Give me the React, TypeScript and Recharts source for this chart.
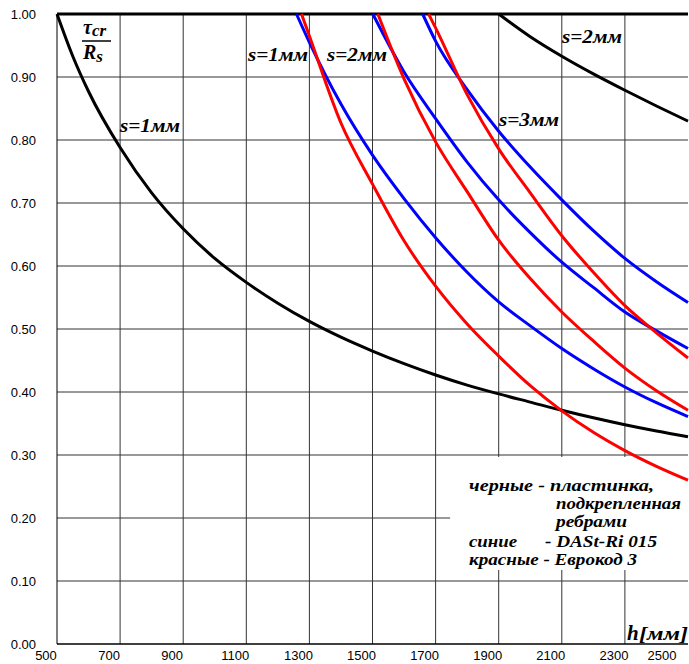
import { LineChart, Line, XAxis, YAxis, CartesianGrid, ReferenceArea, ReferenceLine } from 'recharts'

type Pt = [number, number]

// h [mm] -> tau_cr / R_s
// black: plate stiffened with ribs
const black1: Pt[] = [[500, 1], [550, 0.933], [600, 0.877], [700, 0.788], [800, 0.716], [900, 0.659], [1000, 0.612], [1100, 0.574], [1200, 0.541], [1300, 0.512], [1400, 0.487], [1500, 0.465], [1600, 0.445], [1700, 0.427], [1800, 0.411], [1900, 0.397], [2000, 0.384], [2100, 0.371], [2200, 0.359], [2300, 0.348], [2400, 0.338], [2500, 0.329]]
const black2: Pt[] = [[1900, 1], [2000, 0.964], [2100, 0.933], [2200, 0.905], [2300, 0.879], [2400, 0.854], [2500, 0.83]]
// blue: DASt-Ri 015
const blue1: Pt[] = [[1259, 1], [1300, 0.955], [1400, 0.857], [1500, 0.776], [1600, 0.707], [1700, 0.645], [1800, 0.59], [1900, 0.543], [2000, 0.505], [2100, 0.469], [2200, 0.437], [2300, 0.408], [2400, 0.383], [2500, 0.361]]
const blue2: Pt[] = [[1501, 1], [1600, 0.908], [1700, 0.834], [1800, 0.765], [1900, 0.705], [2000, 0.653], [2100, 0.606], [2200, 0.566], [2300, 0.527], [2400, 0.497], [2500, 0.469]]
const blue3: Pt[] = [[1659, 1], [1700, 0.957], [1800, 0.88], [1900, 0.814], [2000, 0.757], [2100, 0.705], [2200, 0.656], [2300, 0.612], [2400, 0.575], [2500, 0.542]]
// red: Eurocode 3
const red1: Pt[] = [[1275, 1], [1300, 0.965], [1400, 0.827], [1500, 0.73], [1600, 0.64], [1700, 0.568], [1800, 0.508], [1900, 0.457], [2000, 0.41], [2100, 0.37], [2200, 0.336], [2300, 0.307], [2400, 0.282], [2500, 0.26]]
const red2: Pt[] = [[1517, 1], [1600, 0.897], [1700, 0.797], [1800, 0.718], [1900, 0.641], [2000, 0.58], [2100, 0.527], [2200, 0.481], [2300, 0.438], [2400, 0.402], [2500, 0.371]]
const red3: Pt[] = [[1678, 1], [1700, 0.978], [1800, 0.872], [1900, 0.786], [2000, 0.716], [2100, 0.648], [2200, 0.59], [2300, 0.537], [2400, 0.494], [2500, 0.454]]

const xTicks = [500, 700, 900, 1100, 1300, 1500, 1700, 1900, 2100, 2300, 2500]
const xGrid = [700, 900, 1100, 1300, 1500, 1700, 1900, 2100, 2300]
const yTicks = [0, 0.1, 0.2, 0.3, 0.4, 0.5, 0.6, 0.7, 0.8, 0.9, 1]

const series = [
  { key: 'black1', pts: black1, color: '#000000' },
  { key: 'black2', pts: black2, color: '#000000' },
  { key: 'blue1', pts: blue1, color: '#0000FF' },
  { key: 'blue2', pts: blue2, color: '#0000FF' },
  { key: 'blue3', pts: blue3, color: '#0000FF' },
  { key: 'red1', pts: red1, color: '#FF0000' },
  { key: 'red2', pts: red2, color: '#FF0000' },
  { key: 'red3', pts: red3, color: '#FF0000' },
]

const sans = '"Liberation Sans", Arial, sans-serif'
const serif = '"Liberation Serif", "Times New Roman", serif'

const XTick = ({ x, y, payload }: any) => (
  <text x={x - 11} y={y + 16} textAnchor="middle" fontFamily={sans} fontSize={13} fill="#000">
    {payload.value}
  </text>
)

const YTick = ({ x, y, payload }: any) => (
  <text x={x} y={y + 5} textAnchor="end" fontFamily={sans} fontSize={13} fill="#000">
    {Number(payload.value).toFixed(2)}
  </text>
)

const lbl = { fontFamily: serif, fontWeight: 700, fontStyle: 'italic', fill: '#000' } as const
const wide = { lengthAdjust: 'spacingAndGlyphs' } as const

export default function App() {
  return (
    <div style={{ position: 'absolute', left: 0, top: 0, width: 689, height: 664, background: '#fff' }}>
      <LineChart width={689} height={664} margin={{ top: 14, right: 1, bottom: 0, left: 0 }}>
        <CartesianGrid stroke="#333" strokeWidth={1} verticalValues={xGrid} horizontalValues={yTicks.slice(1, 10)} />
        <ReferenceArea x1={1746} x2={2500} y1={0.1175} y2={0.297} fill="#fff" fillOpacity={1} stroke="none" />
        <XAxis
          type="number"
          dataKey="h"
          domain={[500, 2500]}
          ticks={xTicks}
          height={20}
          tickSize={0}
          tickMargin={0}
          tick={<XTick />}
          axisLine={{ stroke: '#000', strokeWidth: 1.5 }}
          tickLine={false}
          allowDuplicatedCategory={false}
        />
        <YAxis
          type="number"
          domain={[0, 1]}
          ticks={yTicks}
          width={57}
          tickSize={0}
          tickMargin={21}
          tick={<YTick />}
          axisLine={{ stroke: '#000' }}
          tickLine={false}
        />
        <ReferenceLine y={1} stroke="#000" strokeWidth={3} />
        {series.map((s) => (
          <Line
            key={s.key}
            data={s.pts.map(([h, v]) => ({ h, v }))}
            dataKey="v"
            type="monotone"
            stroke={s.color}
            strokeWidth={3}
            dot={false}
            activeDot={false}
            isAnimationActive={false}
          />
        ))}
      </LineChart>
      <svg width={689} height={664} style={{ position: 'absolute', left: 0, top: 0, pointerEvents: 'none' }}>
        {/* axis titles */}
        <text x={83} y={34} fontSize={20} {...lbl}>
          τ<tspan fontSize={17} dy={2}>cr</tspan>
        </text>
        <line x1={82} x2={111} y1={41} y2={41} stroke="#000" strokeWidth={1.5} />
        <text x={83} y={59} fontSize={20} {...lbl}>
          R<tspan fontSize={17} dy={3}>s</tspan>
        </text>
        <text x={627} y={640} fontSize={21} {...lbl}>h</text>
        <text x={639} y={640} fontSize={18} textLength={49} {...wide} {...lbl}>[мм]</text>

        {/* curve labels */}
        <text x={120} y={132} fontSize={18} textLength={60} {...wide} {...lbl}>s=1мм</text>
        <text x={248} y={61} fontSize={18} textLength={60} {...wide} {...lbl}>s=1мм</text>
        <text x={327} y={61} fontSize={18} textLength={60} {...wide} {...lbl}>s=2мм</text>
        <text x={499} y={126} fontSize={18} textLength={60} {...wide} {...lbl}>s=3мм</text>
        <text x={562} y={43} fontSize={18} textLength={60} {...wide} {...lbl}>s=2мм</text>

        {/* legend */}
        <text x={469} y={491} fontSize={16} textLength={185} {...wide} {...lbl}>черные - пластинка,</text>
        <text x={556} y={509} fontSize={16} textLength={125} {...wide} {...lbl}>подкрепленная</text>
        <text x={556} y={527} fontSize={16} textLength={71} {...wide} {...lbl}>ребрами</text>
        <text x={469} y={547} fontSize={16} textLength={48} {...wide} {...lbl}>синие</text>
        <text x={545} y={547} fontSize={16} textLength={112} {...wide} {...lbl}>- DASt-Ri 015</text>
        <text x={469} y={565} fontSize={16} textLength={168} {...wide} {...lbl}>красные - Еврокод 3</text>
      </svg>
    </div>
  )
}
